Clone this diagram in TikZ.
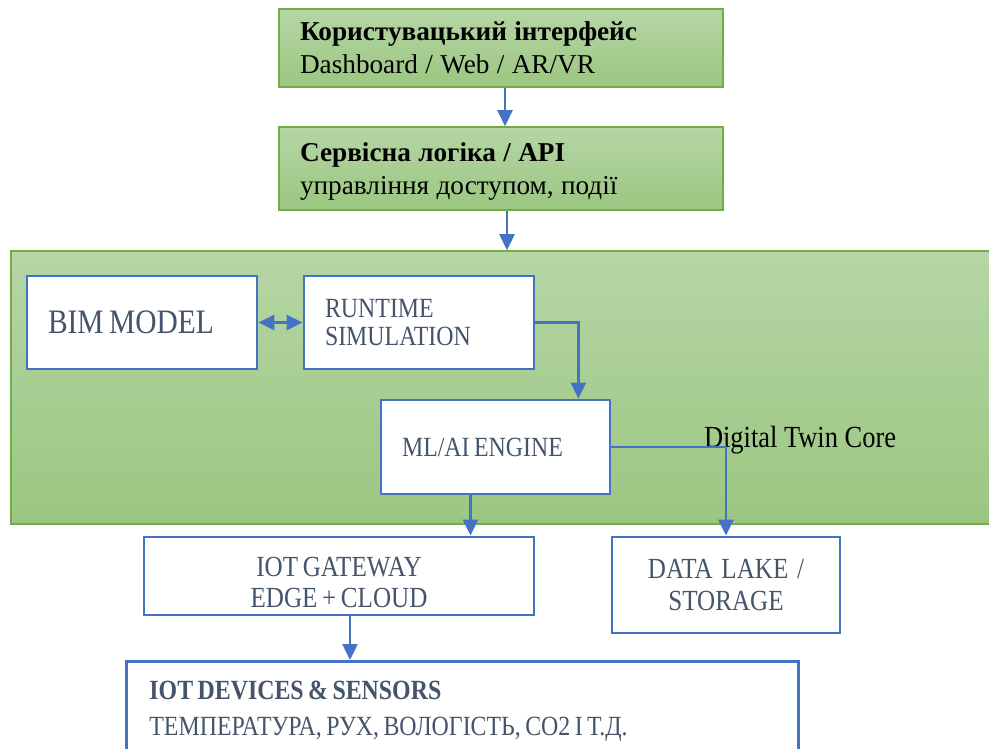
\documentclass[tikz,border=0pt]{standalone}
\usepackage{fontspec}
\setmainfont{Liberation Serif}
\newfontfamily\condfont[FakeStretch=0.86]{Liberation Serif}
\usetikzlibrary{arrows.meta, positioning}
\definecolor{cgtop}{HTML}{B6D6A6}
\definecolor{cgbot}{HTML}{9BC680}
\definecolor{cgborder}{HTML}{70AD47}
\definecolor{cblue}{HTML}{4472C4}
\definecolor{cslate}{HTML}{44546A}

\begin{document}
\begin{tikzpicture}[
  x=0.02cm, y=-0.02cm,
  panel/.style={draw=cgborder, line width=0.9pt, top color=cgtop, bottom color=cgbot},
  layer/.style={panel, text=black, align=left, text width=8.04cm, inner xsep=0.42cm,
                font=\fontsize{15.5}{18.5}\selectfont,
                execute at begin node={\spaceskip=0.27em\relax}},
  blk/.style={draw=cblue, fill=white, line width=1.6pt, text=cslate, inner xsep=0.42cm,
              font=\condfont\fontsize{15.8}{16.3}\selectfont,
              execute at begin node={\spaceskip=0.16em\xspaceskip=0.16em\relax}},
  flow/.style={-{Triangle[length=3.2mm, width=3mm]}, draw=cblue, line width=1.4pt}
]
\useasboundingbox (0,0) rectangle (989,749);

% upper layers
\node[layer, minimum height=1.56cm] (ui) at (501,48)
  {\textbf{Користувацький інтерфейс}\\Dashboard / Web / AR/VR};
\node[layer, minimum height=1.66cm] (api) at (501,168.5)
  {\rule{0pt}{14pt}\textbf{Сервісна логіка / API}\\управління доступом, події};

% digital twin core
\node[panel, minimum width=19.68cm, minimum height=5.46cm] (core) at (503,387.5) {};
\node[font=\condfont\fontsize{17.5}{18}\selectfont] (corelbl) at (800,440) {Digital Twin Core};

\node[blk, align=left, text width=3.76cm, minimum height=1.86cm,
      font=\condfont\fontsize{19.5}{20}\selectfont] (bim) at (142,322.5) {BIM MODEL};
\node[blk, align=left, text width=3.76cm, minimum height=1.86cm] (rt) at (419,322.5)
  {RUNTIME\\SIMULATION};
\node[blk, align=left, text width=3.74cm, minimum height=1.88cm] (ml) at (495.5,447)
  {ML/AI ENGINE};

% lower blocks
\node[blk, align=center, text width=6.96cm, minimum height=1.56cm,
      font=\condfont\fontsize{16.6}{17.8}\selectfont] (gw) at (339,576)
  {\rule{0pt}{18pt}IOT GATEWAY\\EDGE + CLOUD};
\node[blk, align=center, text width=3.72cm, minimum height=1.92cm,
      font=\condfont\fontsize{16.6}{17.8}\selectfont,
      execute at begin node={\spaceskip=0.3em\relax}] (lake) at (726,585)
  {DATA LAKE /\\STORAGE};
\node[blk, anchor=north west, align=left, text width=12.52cm, inner xsep=0.46cm, inner ysep=0.4cm,
      font=\condfont\fontsize{15.8}{20}\selectfont] (dev) at (125,660)
  {\textbf{IOT DEVICES \& SENSORS}\\ТЕМПЕРАТУРА, РУХ, ВОЛОГІСТЬ, СО2 І Т.Д.};

% connectors
\draw[flow] ([xshift=0.08cm]ui.south) -- ([xshift=0.08cm]api.north);
\draw[flow] ([xshift=0.12cm]api.south) -- ([xshift=0.12cm]api.south |- core.north);
\draw[flow, {Triangle[length=3.2mm, width=3mm]}-{Triangle[length=3.2mm, width=3mm]}] (bim) -- (rt);
\draw[flow] (rt.east) -| ([xshift=-0.66cm]ml.north east);
\draw[flow] (ml.east) -| (lake.north);
\draw[flow] ([xshift=-0.5cm]ml.south) -- ([xshift=-0.5cm]ml.south |- gw.north);
\draw[flow] ([xshift=0.22cm]gw.south) -- ([xshift=0.22cm]gw.south |- dev.north);
\end{tikzpicture}
\end{document}
